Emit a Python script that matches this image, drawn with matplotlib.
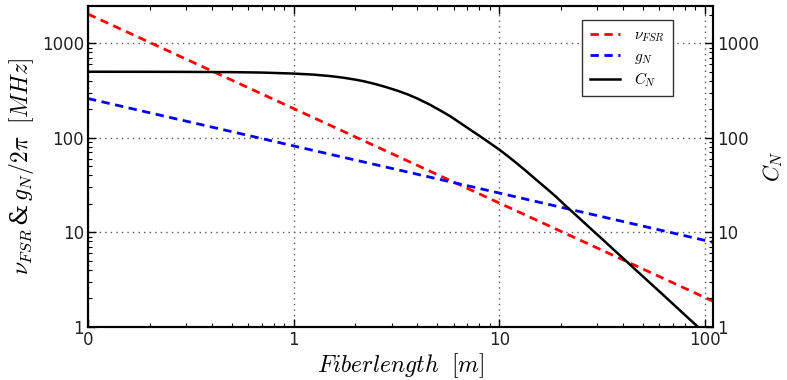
import matplotlib
matplotlib.use("Agg")
import matplotlib.pyplot as plt
from matplotlib.ticker import FixedLocator, LogLocator, NullFormatter

plt.rcParams['mathtext.fontset'] = 'cm'
plt.rcParams['font.family'] = ['DejaVu Sans']

# fibre length [m]
L = [0.1, 1, 10, 100, 110]
nu_fsr = [2040, 204, 20.4, 2.04, 1.85]   # MHz
g_n = [260, 82, 26, 8.2, 7.8]            # MHz

# cooperativity
L_c = [0.1, 0.2, 0.3, 0.5, 0.7, 1.0, 1.25, 1.5, 1.75, 2.0, 2.2, 2.5, 2.8,
       3.2, 3.6, 4.0, 4.6, 5.2, 5.8, 6.7, 7.4, 8.0, 9.0, 10, 11, 12, 13.5,
       15, 17, 19, 21, 24, 28, 32, 36, 42, 50, 60, 70, 80, 91, 100, 110]
C_n = [500, 499, 498, 495, 490, 478, 466, 450, 432, 412, 396, 370, 345,
       315, 287, 260, 224, 193, 168, 136, 117.5, 105, 88, 75, 64, 55, 44.5,
       36.5, 29, 23.5, 19.1, 14.7, 10.8, 8.3, 6.55, 4.82, 3.4, 2.37, 1.74,
       1.33, 1.03, 0.85, 0.70]

xticks = [0.1, 1, 10, 100]
xticklabels = ['0', '1', '10', '100']
yticks = [1, 10, 100, 1000]

fig = plt.figure(figsize=(7.87, 3.8), dpi=100)
ax = fig.add_axes([0.1118, 0.1403, 0.7946, 0.8447])
ax2 = ax.twinx()

l1, = ax.plot(L, nu_fsr, color='red', lw=2, ls='--', dashes=(3, 2))
l2, = ax.plot(L, g_n, color='blue', lw=2, ls='--', dashes=(3, 2))
l3, = ax2.plot(L_c, C_n, color='black', lw=1.8)

for a in (ax, ax2):
    a.set_xscale('log')
    a.set_yscale('log')
    a.set_xlim(0.1, 110)
    a.set_ylim(1, 2500)
    a.yaxis.set_major_locator(FixedLocator(yticks))
    a.set_yticklabels([str(t) for t in yticks])
    a.yaxis.set_minor_locator(LogLocator(base=10, subs=range(2, 10)))
    a.yaxis.set_minor_formatter(NullFormatter())
    a.tick_params(which='both', direction='in', labelsize=12,
                  labelcolor='#222222')
    a.tick_params(which='major', length=6, width=1)
    a.tick_params(which='minor', length=3, width=0.8)
    for s in a.spines.values():
        s.set_linewidth(1.5)

ax.xaxis.set_major_locator(FixedLocator(xticks))
ax.set_xticklabels(xticklabels)
ax.xaxis.set_minor_formatter(NullFormatter())
ax.tick_params(which='both', top=True, right=False, pad=3)
ax2.tick_params(which='both', left=False, right=True, pad=3)

ax.grid(True, which='major', color='0.35', ls=(0, (1, 3)), lw=1)

ax.set_xlabel(r'$Fiberlength\ \ [m]$', fontsize=17, labelpad=2)
ax.set_ylabel(r'$\nu_{FSR}\,$&$\,g_N/2\pi\ \ [MHz]$', fontsize=17, labelpad=4,
              family=['DejaVu Serif'])
ax2.set_ylabel(r'$C_N$', fontsize=16, labelpad=1)

leg = ax2.legend([l1, l2, l3], [r'$\nu_{FSR}$', r'$g_N$', r'$C_N$'],
                 loc='upper right', bbox_to_anchor=(0.947, 0.98),
                 fancybox=False, framealpha=1, edgecolor='#333333',
                 fontsize=11, handlelength=2.0, borderpad=0.5,
                 labelspacing=0.3, handletextpad=0.9)
leg.get_frame().set_linewidth(1)

fig.savefig('out.png', dpi=100)
